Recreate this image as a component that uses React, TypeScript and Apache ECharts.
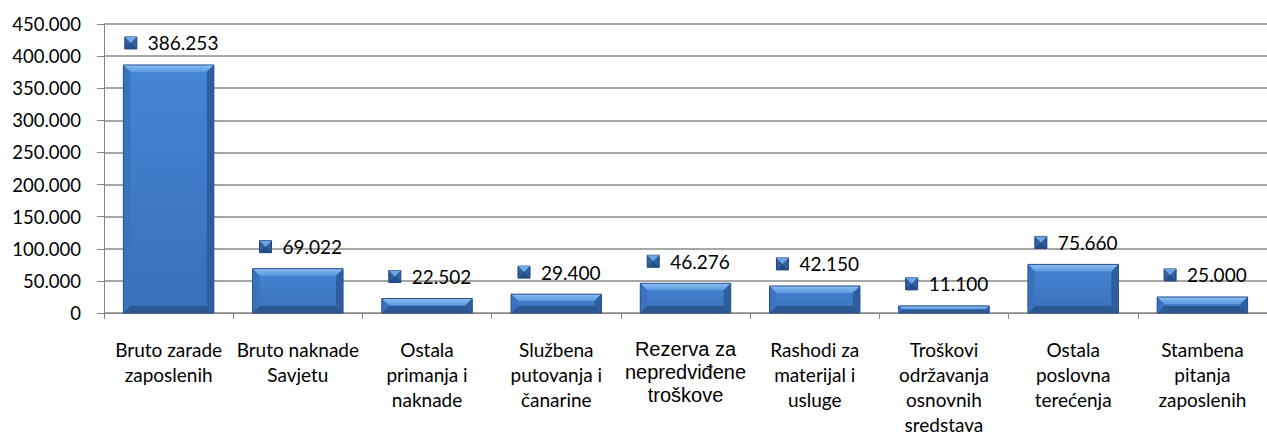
import React, { useEffect, useRef } from "react";
import * as echarts from "echarts";

const categories: string[] = [
  "Bruto zarade\nzaposlenih",
  "Bruto naknade\nSavjetu",
  "Ostala\nprimanja i\nnaknade",
  "Službena\nputovanja i\nčanarine",
  "Rezerva za\nnepredviđene\ntroškove",
  "Rashodi za\nmaterijal i\nusluge",
  "Troškovi\nodržavanja\nosnovnih\nsredstava",
  "Ostala\nposlovna\nterećenja",
  "Stambena\npitanja\nzaposlenih",
];

const values: number[] = [386253, 69022, 22502, 29400, 46276, 42150, 11100, 75660, 25000];

const yMin = 0;
const yMax = 450000;
const yInterval = 50000;

const FONT_FAMILY = "Lato, 'Open Sans', sans-serif";
const LABEL_FONT = `19px ${FONT_FAMILY}`;

function fmt(v: number): string {
  return String(Math.round(v)).replace(/\B(?=(\d{3})+(?!\d))/g, ".");
}

let measureCtx: CanvasRenderingContext2D | null = null;
function measure(text: string, font: string): number {
  if (!measureCtx) {
    const c = document.createElement("canvas");
    measureCtx = c.getContext("2d");
  }
  if (!measureCtx) return text.length * 10;
  measureCtx.font = font;
  return measureCtx.measureText(text).width;
}

export default function App() {
  const ref = useRef<HTMLDivElement>(null);

  useEffect(() => {
    if (!ref.current) return;
    const chart = echarts.init(ref.current, undefined, { renderer: "svg" });

    const renderItem = (params: any, api: any) => {
      const idx = api.value(0);
      const val = api.value(1);
      const top = api.coord([idx, val]);
      const base = api.coord([idx, 0]);
      const band = api.size([1, 0])[0];
      const w = band * 0.7;
      const cx = top[0];
      const x0 = cx - w / 2;
      const x1 = cx + w / 2;
      const y0 = top[1];
      const y1 = base[1];
      const h = y1 - y0;
      const b = Math.min(7, h / 2, w / 2);

      const face = new echarts.graphic.LinearGradient(0, 0, 0, 1, [
        { offset: 0, color: "#4585d6" },
        { offset: 1, color: "#3a6fb9" },
      ]);
      const topBevel = new echarts.graphic.LinearGradient(0, 0, 0, 1, [
        { offset: 0, color: "#8cc0f4" },
        { offset: 1, color: "#5b98e0" },
      ]);

      const text = fmt(val);
      const tw = measure(text, LABEL_FONT);
      const iconW = 12;
      const gap = 11;
      const groupW = iconW + gap + tw;
      const gl = cx + 3 - groupW / 2;
      const cy = y0 - 22;

      return {
        type: "group",
        children: [
          {
            type: "rect",
            shape: { x: x0, y: y0, width: w, height: h },
            style: { fill: face },
          },
          {
            type: "polygon",
            shape: { points: [[x0, y0], [x1, y0], [x1 - b, y0 + b], [x0 + b, y0 + b]] },
            style: { fill: topBevel },
          },
          {
            type: "polygon",
            shape: { points: [[x0, y1], [x1, y1], [x1 - b, y1 - b], [x0 + b, y1 - b]] },
            style: { fill: "#2b5893" },
          },
          {
            type: "polygon",
            shape: { points: [[x0, y0], [x0 + b, y0 + b], [x0 + b, y1 - b], [x0, y1]] },
            style: { fill: "#3b72bd" },
          },
          {
            type: "polygon",
            shape: { points: [[x1, y0], [x1 - b, y0 + b], [x1 - b, y1 - b], [x1, y1]] },
            style: { fill: "#2f5e9f" },
          },
          {
            type: "rect",
            shape: { x: x0, y: y0, width: w, height: h },
            style: { fill: "none", stroke: "#285189", lineWidth: 1 },
          },
          {
            type: "rect",
            shape: { x: gl, y: cy - 6, width: iconW, height: 12 },
            style: { fill: "#2f5f9f", stroke: "#1f4274", lineWidth: 1 },
          },
          {
            type: "polygon",
            shape: { points: [[gl, cy - 6], [gl + iconW, cy - 6], [gl + iconW / 2, cy]] },
            style: { fill: "#6fa6e6" },
          },
          {
            type: "polygon",
            shape: { points: [[gl, cy + 6], [gl + iconW, cy + 6], [gl + iconW / 2, cy]] },
            style: { fill: "#264e86" },
          },
          {
            type: "text",
            x: gl + iconW + gap,
            y: cy,
            style: {
              text,
              fill: "#000",
              font: LABEL_FONT,
              align: "left",
              verticalAlign: "middle",
            },
          },
        ],
      };
    };

    chart.setOption({
      animation: false,
      backgroundColor: "#ffffff",
      grid: { left: 104, top: 24, bottom: 122, width: 1175 },
      xAxis: {
        type: "category",
        data: categories,
        axisLine: { show: true, lineStyle: { color: "#868686", width: 1 } },
        axisTick: { show: true, length: 6, lineStyle: { color: "#868686" } },
        axisLabel: {
          interval: 0,
          margin: 24,
          color: "#000",
          fontFamily: FONT_FAMILY,
          fontSize: 19,
          lineHeight: 25,
          formatter: (v: string, i: number) =>
            i === 4
              ? v
                  .split("\n")
                  .map((s) => `{r|${s}}`)
                  .join("\n")
              : v,
          rich: {
            r: {
              fontFamily: "'Liberation Sans', Arial, sans-serif",
              fontSize: 20,
              lineHeight: 23,
              color: "#000",
            },
          },
        },
      },
      yAxis: {
        type: "value",
        min: yMin,
        max: yMax,
        interval: yInterval,
        axisLine: { show: true, lineStyle: { color: "#868686", width: 1 } },
        axisTick: { show: true, length: 7, lineStyle: { color: "#868686" } },
        splitLine: { show: true, lineStyle: { color: "#8a8a8a", width: 1.5 } },
        axisLabel: {
          margin: 23,
          color: "#000",
          fontFamily: FONT_FAMILY,
          fontSize: 18.5,
          formatter: (v: number) => fmt(v),
        },
      },
      series: [
        {
          type: "custom",
          renderItem,
          encode: { x: 0, y: 1 },
          data: values.map((v, i) => [i, v]),
          z: 5,
        },
      ],
    });

    return () => chart.dispose();
  }, []);

  return (
    <div
      ref={ref}
      style={{ position: "fixed", left: 0, top: 0, width: 1267, height: 437, background: "#fff" }}
    />
  );
}
